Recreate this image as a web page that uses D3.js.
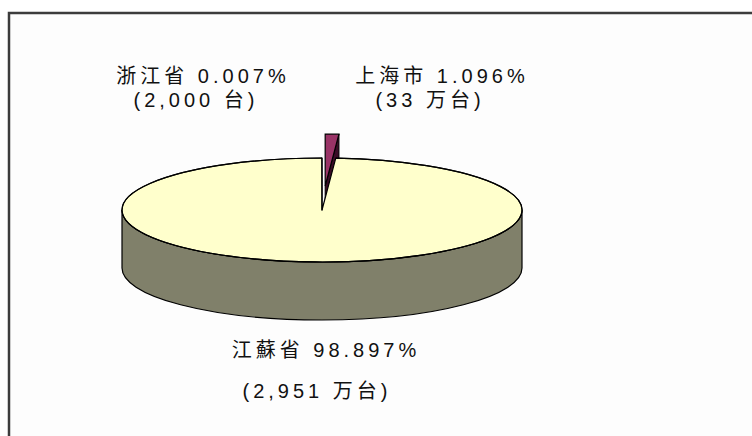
<!DOCTYPE html>
<html>
<head>
<meta charset="utf-8">
<script src="https://cdn.jsdelivr.net/npm/d3@7"></script>
<style>
  body { margin: 0; background: #fff; }
  svg { display: block; }
</style>
</head>
<body>
<svg id="chart" width="752" height="436"></svg>
<script>
// slice order runs clockwise from 12 o'clock
const categories = ["上海市", "江蘇省", "浙江省"];
const shares = [1.096, 98.897, 0.007];
const units = ["(33 万台)", "(2,951 万台)", "(2,000 台)"];
const colors = ["#993366", "#ffffcc", "#9999ff"];
const sideColors = ["#3a0c26", "#80806a", "#5c5c99"];
const exploded = [true, false, false];

const svg = d3.select("#chart"),
      width = +svg.attr("width"),
      height = +svg.attr("height");

// chart frame (runs off the right and bottom edges)
svg.append("rect")
   .attr("x", 9).attr("y", 13)
   .attr("width", width + 20).attr("height", height + 20)
   .attr("fill", "#fdfdfd")
   .attr("stroke", "#3c3c3c")
   .attr("stroke-width", 2.5);

const cx = 322, cy = 210, rx = 200, ry = 52, depth = 58, explode = 24;

const pie = d3.pie().sort(null).value(d => d);
const arcs = pie(shares);

const pt = (a, ox = 0, oy = 0) => [cx + ox + rx * Math.sin(a), cy + oy - ry * Math.cos(a)];

function offsetOf(d, i) {
  if (!exploded[i]) return [0, 0];
  const m = (d.startAngle + d.endAngle) / 2;
  return [explode * rx / ry * Math.sin(m), -explode * Math.cos(m)];
}

function topPath(d, i) {
  const [ox, oy] = offsetOf(d, i);
  const p0 = pt(d.startAngle, ox, oy), p1 = pt(d.endAngle, ox, oy);
  const large = d.endAngle - d.startAngle > Math.PI ? 1 : 0;
  return `M${cx + ox},${cy + oy}L${p0}A${rx},${ry} 0 ${large} 1 ${p1}Z`;
}

// radial cut face at the end angle of a slice
function cutPath(d, i) {
  const [ox, oy] = offsetOf(d, i);
  const c = [cx + ox, cy + oy];
  const p = pt(d.endAngle, ox, oy);
  return `M${c}L${p}L${p[0]},${p[1] + depth}L${c[0]},${c[1] + depth}Z`;
}

// exploded slice sits behind the main body
arcs.forEach((d, i) => {
  if (!exploded[i]) return;
  svg.append("path").attr("d", cutPath(d, i))
     .attr("fill", sideColors[i]).attr("stroke", "#000").attr("stroke-width", 1);
  svg.append("path").attr("d", topPath(d, i))
     .attr("fill", colors[i]).attr("stroke", "#000").attr("stroke-width", 1.2);
});

// front wall of the big slice
svg.append("path")
   .attr("d", `M${cx + rx},${cy}A${rx},${ry} 0 0 1 ${cx - rx},${cy}L${cx - rx},${cy + depth}A${rx},${ry} 0 0 0 ${cx + rx},${cy + depth}Z`)
   .attr("fill", sideColors[1])
   .attr("stroke", "#000")
   .attr("stroke-width", 1.2);

// top faces of the slices that stay in place
arcs.forEach((d, i) => {
  if (exploded[i]) return;
  svg.append("path").attr("d", topPath(d, i))
     .attr("fill", colors[i]).attr("stroke", "#000").attr("stroke-width", 1.2)
     .attr("stroke-linejoin", "round");
});
svg.append("path")
   .attr("d", `M${pt(arcs[1].startAngle)}A${rx},${ry} 0 1 1 ${pt(arcs[1].endAngle)}`)
   .attr("fill", "none").attr("stroke", "#000").attr("stroke-width", 1.2);

// data labels: [line 1 x, line 1 y, line 2 x, line 2 y]
const labelPos = [[442, 76, 430, 100], [326, 350, 317, 391], [203, 76, 196, 100]];
arcs.forEach((d, i) => {
  const [x1, y1, x2, y2] = labelPos[i];
  const g = svg.append("g")
     .attr("font-family", "'Liberation Sans', 'Noto Sans CJK SC', sans-serif")
     .attr("font-size", "20px")
     .attr("letter-spacing", "4px")
     .attr("text-anchor", "middle")
     .attr("fill", "#111");
  g.append("text").attr("x", x1).attr("y", y1).attr("dy", "0.35em")
   .text(`${categories[i]} ${shares[i].toFixed(3)}%`);
  g.append("text").attr("x", x2).attr("y", y2).attr("dy", "0.35em")
   .text(units[i]);
});
</script>
</body>
</html>
